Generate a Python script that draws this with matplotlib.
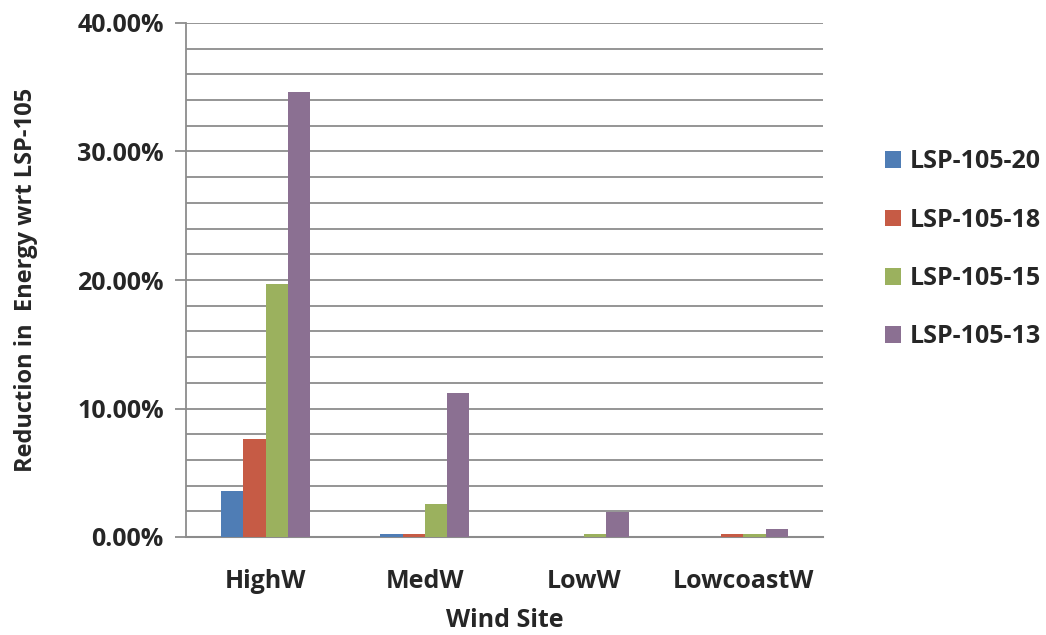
import matplotlib
matplotlib.use("Agg")
import matplotlib.pyplot as plt
from matplotlib.ticker import MultipleLocator, FuncFormatter
from matplotlib.patches import Patch
import numpy as np

sites = ["HighW", "MedW", "LowW", "LowcoastW"]
series_names = ["LSP-105-20", "LSP-105-18", "LSP-105-15", "LSP-105-13"]
lsp_105_20 = [3.6, 0.2, 0.0, 0.0]
lsp_105_18 = [7.6, 0.2, 0.0, 0.25]
lsp_105_15 = [19.7, 2.55, 0.2, 0.2]
lsp_105_13 = [34.6, 11.2, 1.97, 0.6]
colors = ["#4F7DB5", "#C65B45", "#9BB15E", "#8B7092"]

plt.rcParams["font.family"] = ["Open Sans", "DejaVu Sans"]
text_color = "#262626"
fs = 18

fig = plt.figure(figsize=(10.46, 6.35), dpi=100)
ax = fig.add_axes([186 / 1046, 1 - 537 / 635, (823 - 186) / 1046, (537 - 23) / 635])

x = np.arange(len(sites))
bw = 0.14
all_series = [lsp_105_20, lsp_105_18, lsp_105_15, lsp_105_13]
for i, (vals, col) in enumerate(zip(all_series, colors)):
    ax.bar(x + (i - 1.5) * bw, vals, width=bw, color=col, zorder=3)

ax.set_ylim(0, 40)
ax.set_xlim(-0.5, 3.5)
ax.yaxis.set_major_locator(MultipleLocator(10))
ax.yaxis.set_minor_locator(MultipleLocator(2))
ax.yaxis.set_major_formatter(FuncFormatter(lambda v, p: f"{v:.2f}%"))
ax.grid(axis="y", which="both", color="#8c8c8c", linewidth=1.3, zorder=0)
ax.set_axisbelow(True)

for s in ["top", "right"]:
    ax.spines[s].set_visible(False)
ax.spines["left"].set_color("#8c8c8c")
ax.spines["left"].set_linewidth(1.3)
ax.spines["bottom"].set_color("#8c8c8c")
ax.spines["bottom"].set_linewidth(1.5)

ax.tick_params(axis="y", which="major", length=8, width=1.3, color="#8c8c8c",
               labelsize=fs, labelcolor=text_color, pad=8)
ax.tick_params(axis="y", which="minor", length=0)
ax.tick_params(axis="x", length=0, labelsize=fs, labelcolor=text_color, pad=23)
ax.set_xticks(x)
ax.set_xticklabels(sites, fontweight="bold")
for lab in ax.get_yticklabels():
    lab.set_fontweight("bold")

ax.set_xlabel("Wind Site", fontsize=fs, fontweight="bold", color=text_color, labelpad=10)
ax.set_ylabel("Reduction in  Energy wrt LSP-105", fontsize=17, fontweight="bold",
              color=text_color, labelpad=28)

handles = [Patch(facecolor=c, edgecolor="none") for c in colors]
fig.legend(handles, series_names, loc="upper left", bbox_to_anchor=(862 / 1046, 1 - 127 / 635),
           frameon=False, prop={"weight": "bold", "size": fs},
           handlelength=0.65, handleheight=0.65, handletextpad=0.35, labelspacing=1.33,
           labelcolor=text_color)

fig.savefig("out.png", dpi=100)
